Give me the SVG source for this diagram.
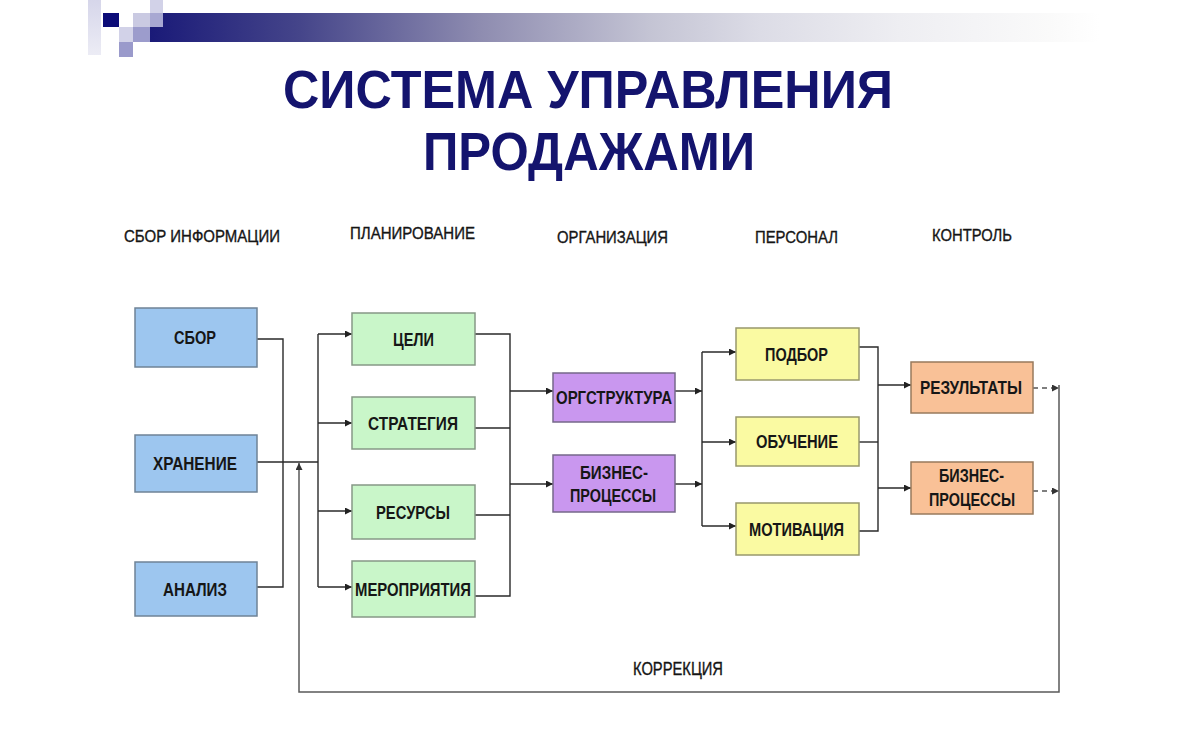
<svg xmlns="http://www.w3.org/2000/svg" width="1200" height="750" viewBox="0 0 1200 750">
  <defs>
    <linearGradient id="barGrad" x1="150" y1="0" x2="1100" y2="0" gradientUnits="userSpaceOnUse">
      <stop offset="0" stop-color="#1a1a78"/>
      <stop offset="0.158" stop-color="#45458a"/>
      <stop offset="0.347" stop-color="#8e8cb0"/>
      <stop offset="0.526" stop-color="#c4c4d4"/>
      <stop offset="0.642" stop-color="#dcdce6"/>
      <stop offset="0.789" stop-color="#eeeef2"/>
      <stop offset="0.947" stop-color="#fafafa"/>
      <stop offset="1" stop-color="#ffffff"/>
    </linearGradient>
    <linearGradient id="colGrad" x1="0" y1="0" x2="0" y2="1">
      <stop offset="0" stop-color="#d6d6ea"/>
      <stop offset="1" stop-color="#ececf5"/>
    </linearGradient>
    <marker id="arr" viewBox="0 0 10 10" refX="10" refY="5" markerWidth="7" markerHeight="7" markerUnits="userSpaceOnUse" orient="auto">
      <path d="M0,0 L10,5 L0,10 z" fill="#222"/>
    </marker>
    <marker id="arrG" viewBox="0 0 10 10" refX="10" refY="5" markerWidth="7" markerHeight="7" markerUnits="userSpaceOnUse" orient="auto">
      <path d="M0,0 L10,5 L0,10 z" fill="#333"/>
    </marker>
  </defs>
  <style>
    .title { font-family: "Liberation Sans", Arial, sans-serif; font-weight: bold; font-size: 53px; fill: #14146e; text-anchor: middle; }
    .hdr { font-family: "Liberation Sans", Arial, sans-serif; font-size: 17px; fill: #151515; stroke: #151515; stroke-width: 0.35; text-anchor: middle; }
    .kor { font-size: 18px; }
    .lbl { font-family: "Liberation Sans", Arial, sans-serif; font-weight: bold; font-size: 18px; fill: #161616; text-anchor: middle; }
    .blue { fill: #9dc6ef; stroke: #6f8396; stroke-width: 1.5; }
    .green { fill: #c9f6c9; stroke: #869886; stroke-width: 1.5; }
    .purple { fill: #c997ef; stroke: #76688a; stroke-width: 1.5; }
    .yellow { fill: #fafaa2; stroke: #98986c; stroke-width: 1.5; }
    .orange { fill: #f9c197; stroke: #987a5c; stroke-width: 1.5; }
    .ln { fill: none; stroke: #2a2a2a; stroke-width: 1.4; }
    .la { fill: none; stroke: #2a2a2a; stroke-width: 1.4; marker-end: url(#arr); }
    .dash { fill: none; stroke: #555; stroke-width: 1.4; stroke-dasharray: 5 4; marker-end: url(#arrG); }
    .fb { fill: none; stroke: #5a5a5a; stroke-width: 1.5; marker-end: url(#arrG); }
  </style>

  <rect x="0" y="0" width="1200" height="750" fill="#ffffff"/>

  <!-- header decoration -->
  <g id="decoration">
    <rect x="88" y="0" width="13" height="55" fill="url(#colGrad)"/>
    <rect x="150" y="27" width="950" height="15" fill="url(#barGrad)"/>
    <rect x="163" y="13" width="937" height="14" fill="url(#barGrad)"/>
    <rect x="103" y="13" width="16" height="14" fill="#0c0c78"/>
    <rect x="119" y="27" width="14" height="15" fill="#d2d2e8"/>
    <rect x="119" y="42" width="14" height="15" fill="#9a9acb"/>
    <rect x="133" y="13" width="17" height="14" fill="#cacae2"/>
    <rect x="133" y="27" width="17" height="15" fill="#9c9ccc"/>
    <rect x="150" y="0" width="13" height="13" fill="#d2d2e8"/>
    <rect x="150" y="13" width="13" height="14" fill="#a8a8d2"/>
  </g>

  <!-- title -->
  <g id="title">
    <text class="title" x="588" y="108" textLength="610" lengthAdjust="spacingAndGlyphs">СИСТЕМА УПРАВЛЕНИЯ</text>
    <text class="title" x="589" y="170" textLength="332" lengthAdjust="spacingAndGlyphs">ПРОДАЖАМИ</text>
  </g>

  <!-- column headers -->
  <g id="headers">
    <text class="hdr" x="202" y="242" textLength="156" lengthAdjust="spacingAndGlyphs">СБОР ИНФОРМАЦИИ</text>
    <text class="hdr" x="412.5" y="239" textLength="125" lengthAdjust="spacingAndGlyphs">ПЛАНИРОВАНИЕ</text>
    <text class="hdr" x="612.5" y="243" textLength="111" lengthAdjust="spacingAndGlyphs">ОРГАНИЗАЦИЯ</text>
    <text class="hdr" x="796.5" y="242.5" textLength="83" lengthAdjust="spacingAndGlyphs">ПЕРСОНАЛ</text>
    <text class="hdr" x="972" y="241" textLength="80" lengthAdjust="spacingAndGlyphs">КОНТРОЛЬ</text>
  </g>

  <!-- connectors -->
  <g id="connectors">
    <path class="ln" d="M257,339 H283 V587 H257"/>
    <path class="ln" d="M257,462 H318"/>
    <path class="ln" d="M318,334 V587"/>
    <path class="la" d="M318,334 H352"/>
    <path class="la" d="M318,423 H352"/>
    <path class="la" d="M318,511 H352"/>
    <path class="la" d="M318,587 H352"/>

    <path class="ln" d="M475,334 H510 V596 H475"/>
    <path class="ln" d="M475,428 H510"/>
    <path class="ln" d="M475,515 H510"/>
    <path class="la" d="M510,391 H553"/>
    <path class="la" d="M510,484 H553"/>

    <path class="la" d="M675,391 H702"/>
    <path class="la" d="M675,484 H702"/>
    <path class="ln" d="M702,352 V526"/>
    <path class="la" d="M702,352 H736"/>
    <path class="la" d="M702,442 H736"/>
    <path class="la" d="M702,526 H736"/>

    <path class="ln" d="M859,347 H878 V531 H859"/>
    <path class="ln" d="M859,442 H878"/>
    <path class="la" d="M878,385 H911"/>
    <path class="la" d="M878,488 H911"/>

    <path class="dash" d="M1033,388 H1059"/>
    <path class="dash" d="M1033,491 H1059"/>
    <path class="fb" d="M1059,385 V692 H299 V463"/>
  </g>

  <!-- nodes -->
  <g id="n-sbor">
    <rect class="blue" x="135" y="308" width="122" height="59"/>
    <text class="lbl" x="195" y="344" textLength="42" lengthAdjust="spacingAndGlyphs">СБОР</text>
  </g>
  <g id="n-hranenie">
    <rect class="blue" x="135" y="435" width="122" height="57"/>
    <text class="lbl" x="195" y="470" textLength="84" lengthAdjust="spacingAndGlyphs">ХРАНЕНИЕ</text>
  </g>
  <g id="n-analiz">
    <rect class="blue" x="135" y="562" width="122" height="54"/>
    <text class="lbl" x="195" y="595.5" textLength="64" lengthAdjust="spacingAndGlyphs">АНАЛИЗ</text>
  </g>

  <g id="n-celi">
    <rect class="green" x="352" y="313" width="123" height="52"/>
    <text class="lbl" x="413.5" y="346" textLength="41" lengthAdjust="spacingAndGlyphs">ЦЕЛИ</text>
  </g>
  <g id="n-strategiya">
    <rect class="green" x="352" y="397" width="123" height="52"/>
    <text class="lbl" x="413" y="429.5" textLength="90" lengthAdjust="spacingAndGlyphs">СТРАТЕГИЯ</text>
  </g>
  <g id="n-resursy">
    <rect class="green" x="352" y="485" width="123" height="54"/>
    <text class="lbl" x="413" y="518.5" textLength="74" lengthAdjust="spacingAndGlyphs">РЕСУРСЫ</text>
  </g>
  <g id="n-meropriyatiya">
    <rect class="green" x="352" y="561" width="123" height="56"/>
    <text class="lbl" x="413" y="595.5" textLength="116" lengthAdjust="spacingAndGlyphs">МЕРОПРИЯТИЯ</text>
  </g>

  <g id="n-orgstruktura">
    <rect class="purple" x="553" y="373" width="122" height="49"/>
    <text class="lbl" x="614" y="404" textLength="116" lengthAdjust="spacingAndGlyphs">ОРГСТРУКТУРА</text>
  </g>
  <g id="n-biznes1">
    <rect class="purple" x="553" y="455" width="122" height="57"/>
    <text class="lbl" x="614" y="479" textLength="68" lengthAdjust="spacingAndGlyphs">БИЗНЕС-</text>
    <text class="lbl" x="613" y="502" textLength="86" lengthAdjust="spacingAndGlyphs">ПРОЦЕССЫ</text>
  </g>

  <g id="n-podbor">
    <rect class="yellow" x="736" y="328" width="123" height="52"/>
    <text class="lbl" x="796.5" y="360.5" textLength="63" lengthAdjust="spacingAndGlyphs">ПОДБОР</text>
  </g>
  <g id="n-obuchenie">
    <rect class="yellow" x="736" y="417" width="123" height="49"/>
    <text class="lbl" x="797" y="448" textLength="82" lengthAdjust="spacingAndGlyphs">ОБУЧЕНИЕ</text>
  </g>
  <g id="n-motivaciya">
    <rect class="yellow" x="736" y="503" width="123" height="52"/>
    <text class="lbl" x="796.5" y="535.5" textLength="95" lengthAdjust="spacingAndGlyphs">МОТИВАЦИЯ</text>
  </g>

  <g id="n-rezultaty">
    <rect class="orange" x="911" y="362" width="122" height="51"/>
    <text class="lbl" x="971" y="394" textLength="102" lengthAdjust="spacingAndGlyphs">РЕЗУЛЬТАТЫ</text>
  </g>
  <g id="n-biznes2">
    <rect class="orange" x="911" y="462" width="122" height="52"/>
    <text class="lbl" x="971.5" y="482" textLength="65" lengthAdjust="spacingAndGlyphs">БИЗНЕС-</text>
    <text class="lbl" x="972" y="506" textLength="86" lengthAdjust="spacingAndGlyphs">ПРОЦЕССЫ</text>
  </g>

  <g id="label-korrekciya">
    <text class="hdr kor" x="678" y="675" textLength="90" lengthAdjust="spacingAndGlyphs">КОРРЕКЦИЯ</text>
  </g>
</svg>
